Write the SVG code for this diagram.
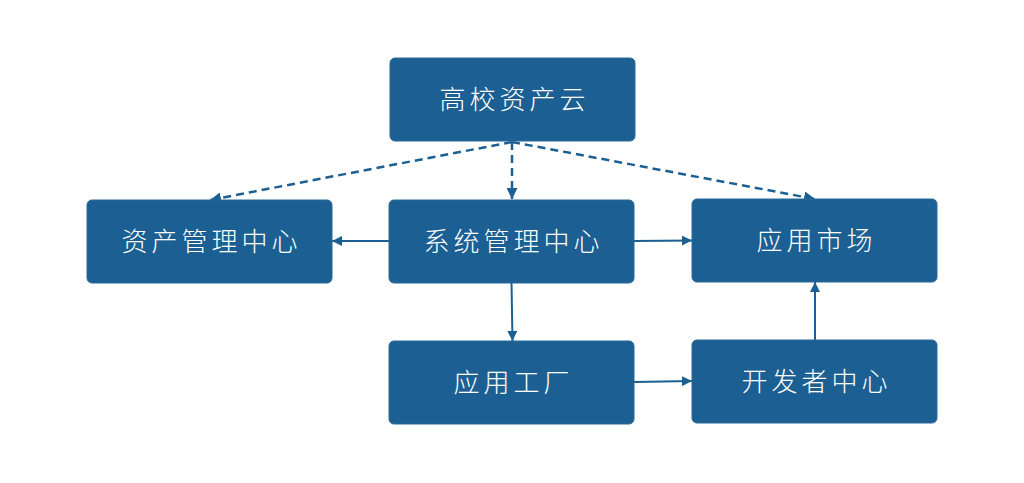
<svg xmlns="http://www.w3.org/2000/svg" width="1024" height="483" viewBox="0 0 1024 483">
<style>
.box{fill:#1C5F92;stroke:#2A6A9C;stroke-width:1}
.lbl{fill:#FFFFFF;font-family:"Noto Sans CJK SC","Noto Sans",sans-serif;font-size:26px;font-weight:300;letter-spacing:4px;text-anchor:middle}
.ln{stroke:#1C5F92;stroke-width:2;fill:none}
.dash{stroke-dasharray:8,5;stroke-width:2.5}
</style>
<defs>
<marker id="ah" viewBox="0 0 10 10" refX="10" refY="5" markerWidth="5" markerHeight="5" orient="auto" markerUnits="strokeWidth">
<path d="M0,0 L10,5 L0,10 z" fill="#1C5F92"/>
</marker>
<marker id="ahd" viewBox="0 0 10 10" refX="10" refY="5" markerWidth="4.4" markerHeight="4.4" orient="auto" markerUnits="strokeWidth">
<path d="M0,0 L10,5 L0,10 z" fill="#1C5F92"/>
</marker>
</defs>
<rect width="1024" height="483" fill="#FFFFFF"/>
<g id="connectors">
<line class="ln dash" x1="512" y1="142" x2="210" y2="200" marker-end="url(#ahd)"/>
<line class="ln dash" x1="512" y1="142" x2="512" y2="199" marker-end="url(#ahd)"/>
<line class="ln dash" x1="512" y1="142" x2="815" y2="199" marker-end="url(#ahd)"/>
<line class="ln" x1="389" y1="241" x2="332" y2="241" marker-end="url(#ah)"/>
<line class="ln" x1="634" y1="241" x2="692" y2="240.5" marker-end="url(#ah)"/>
<line class="ln" x1="511.5" y1="283" x2="512.5" y2="341" marker-end="url(#ah)"/>
<line class="ln" x1="634" y1="382" x2="692" y2="381" marker-end="url(#ah)"/>
<line class="ln" x1="815" y1="340" x2="815" y2="282" marker-end="url(#ah)"/>
</g>
<g id="n1"><rect class="box" x="390" y="58" width="245" height="83" rx="5"/><text class="lbl" x="514.5" y="109">高校资产云</text></g>
<g id="n2"><rect class="box" x="87" y="200" width="245" height="83" rx="5"/><text class="lbl" x="211.5" y="251">资产管理中心</text></g>
<g id="n3"><rect class="box" x="389" y="200" width="245" height="83" rx="5"/><text class="lbl" x="513.5" y="251">系统管理中心</text></g>
<g id="n4"><rect class="box" x="692" y="199" width="245" height="83" rx="5"/><text class="lbl" x="816.5" y="250">应用市场</text></g>
<g id="n5"><rect class="box" x="389" y="341" width="245" height="83" rx="5"/><text class="lbl" x="513.5" y="392">应用工厂</text></g>
<g id="n6"><rect class="box" x="692" y="340" width="245" height="83" rx="5"/><text class="lbl" x="816.5" y="391">开发者中心</text></g>
</svg>
